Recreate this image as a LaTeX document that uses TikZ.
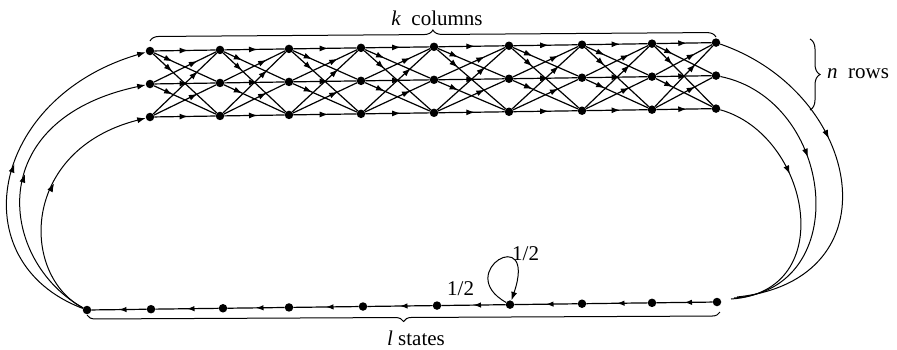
\documentclass[tikz,border=0pt]{standalone}
\usepackage{fontspec}
\setmainfont{Liberation Serif}
\usetikzlibrary{arrows.meta,decorations.markings,decorations.pathreplacing}
\begin{document}
\begin{tikzpicture}[x=1pt,y=-1pt,
  dot/.style={circle,fill=black,inner sep=0pt,minimum size=8.5pt},
  edge/.style={line width=1.2pt},
  arcline/.style={line width=1pt},
  lbl/.style={font=\fontsize{21}{25}\selectfont,inner sep=0pt},
  brc/.style={line width=1pt,decorate},
  midarrow/.style={postaction={decorate,decoration={markings,mark=at position #1 with {\arrow{Latex[length=8.5pt,width=6pt]}}}}},
  midarrowS/.style={postaction={decorate,decoration={markings,mark=at position #1 with {\arrow{Latex[length=7.5pt,width=5.5pt]}}}}},
  endarrow/.style={-{Latex[length=8.5pt,width=6pt]}}]
\useasboundingbox (0,0) rectangle (897,349);
% grid nodes
\foreach \c/\x in {0/150,1/220,2/289,3/361,4/434,5/509,6/582,7/652,8/716} {
  \foreach \r/\y in {1/51,2/84,3/117} {
    \node[dot] (g-\r-\c) at (\x,{\y-1.05*\c}) {};
  }
}
% grid edges
\foreach \c [evaluate=\c as \n using int(\c+1)] in {0,...,7} {
  \foreach \r in {1,2,3} {
    \foreach \s in {1,2,3} {
      \pgfmathsetmacro\p{\r==\s ? 0.55 : (\s>\r ? 0.3 : 0.7)}
      \draw[edge,midarrow=\p] (g-\r-\c) -- (g-\s-\n);
    }
  }
}
% chain nodes
\foreach \i/\x in {0/87,1/151,2/223,3/289,4/363,5/437,6/510,7/582,8/652,9/717} {
  \node[dot] (ch\i) at (\x,{310-8*(\x-87)/630}) {};
}
\foreach \i [evaluate=\i as \j using int(\i+1)] in {0,...,8} {
  \draw[edge,midarrowS=0.5] (ch\j) -- (ch\i);
}
% self loop
\draw[arcline,endarrow] (ch6) .. controls (452,272) and (538,222) .. (ch6);
% left arcs (chain -> grid)
\draw[arcline,endarrow,midarrow=0.5] (ch0) .. controls (-40,262) and (-10,98) .. (g-1-0);
\draw[arcline,endarrow,midarrow=0.5] (ch0) .. controls (0,262) and (-20,120) .. (g-2-0);
\draw[arcline,endarrow,midarrow=0.55] (ch0) .. controls (20,275) and (20,150) .. (g-3-0);
% right arcs (grid -> chain)
\coordinate (e1) at (737,297);
\coordinate (e2) at (734,298);
\coordinate (e3) at (731,299);
\draw[arcline,midarrow=0.4] (g-1-8) .. controls (862,93) and (897,280) .. (e1);
\draw[arcline,midarrow=0.4] (g-2-8) .. controls (835,100) and (855,290) .. (e2);
\draw[arcline,midarrow=0.37] (g-3-8) .. controls (810,135) and (840,292) .. (e3);
% braces
\coordinate (tb1) at (150,41);
\coordinate (tb2) at (716,37);
\draw[brc,decoration={brace,amplitude=9pt}] (tb1) -- (tb2);
\coordinate (rb1) at (810,39);
\coordinate (rb2) at (810,110);
\draw[brc,decoration={brace,amplitude=10pt}] (rb1) -- (rb2);
\coordinate (bb1) at (87,315);
\coordinate (bb2) at (720,312);
\draw[brc,decoration={brace,amplitude=8pt,mirror}] (bb1) -- (bb2);
% labels
\node[lbl,anchor=base] (kc) at (437,25) {\textit{k}\enspace columns};
\node[lbl,anchor=base west] (nr) at (827,78) {\textit{n}\enspace rows};
\node[lbl,anchor=base] (ls) at (416,345) {\textit{l} states};
\node[lbl,anchor=base west] (h1) at (512,260) {1/2};
\node[lbl,anchor=base west] (h2) at (447,295) {1/2};
\end{tikzpicture}
\end{document}
